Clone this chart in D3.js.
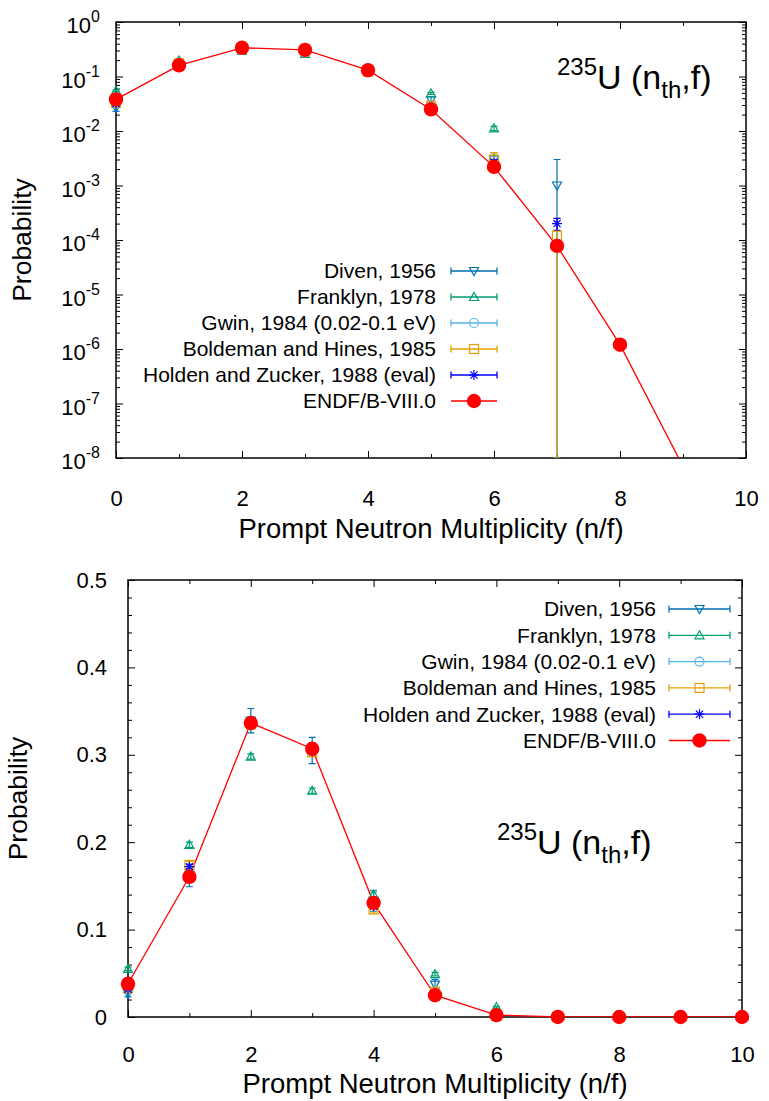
<!DOCTYPE html>
<html>
<head>
<meta charset="utf-8">
<script src="https://cdn.jsdelivr.net/npm/d3@7"></script>
<style>
  body { margin: 0; background: #fff; }
  svg { font-family: "Liberation Sans", Arial, Helvetica, sans-serif; }
</style>
</head>
<body>
<svg id="chart" width="769" height="1101"></svg>
<script>
// multiplicity values for the measured data
const nExp = [0, 1, 2, 3, 4, 5, 6, 7];
const nEndf = [0, 1, 2, 3, 4, 5, 6, 7, 8, 9, 10];

// probabilities and their errors
const divenP   = [0.027, 0.162, 0.339, 0.305, 0.133, 0.037, 0.0030, 0.0010];
const divenE   = [0.004, 0.013, 0.014, 0.015, 0.012, 0.006, 0.0010, 0.0020];
const franklynP = [0.055, 0.197, 0.298, 0.259, 0.140, 0.049, 0.0112];
const franklynE = [0.002, 0.003, 0.003, 0.003, 0.003, 0.002, 0.0010];
const gwinP    = [0.031, 0.165, 0.334, 0.305, 0.130, 0.030, 0.0030];
const gwinE    = [0.002, 0.004, 0.005, 0.005, 0.004, 0.002, 0.0005];
const boldemanP = [0.033, 0.174, 0.335, 0.303, 0.123, 0.029, 0.0030, 0.00012];
const boldemanE = [0.002, 0.004, 0.005, 0.005, 0.004, 0.002, 0.0010, 0.00013];
const holdenP  = [0.0317, 0.1720, 0.3363, 0.3038, 0.1268, 0.0266, 0.0026, 0.0002];
const holdenE  = [0.0013, 0.0023, 0.0016, 0.0015, 0.0020, 0.0015, 0.0004, 0.00005];
const endfP    = [0.038, 0.1604, 0.3364, 0.3069, 0.1306, 0.0249, 0.0022, 7.8e-5, 1.2e-6, 7e-9, 1e-11];

const xTickLabels = [0, 2, 4, 6, 8, 10];
const linTickLabels = [0, 0.1, 0.2, 0.3, 0.4, 0.5];
const logDecades = [-8, -7, -6, -5, -4, -3, -2, -1, 0];

const seriesNames = [
  'Diven, 1956',
  'Franklyn, 1978',
  'Gwin, 1984 (0.02-0.1 eV)',
  'Boldeman and Hines, 1985',
  'Holden and Zucker, 1988 (eval)',
  'ENDF/B-VIII.0'
];

const series = [
  { name: seriesNames[0], color: '#0072b2', sym: 'tridown', p: divenP, e: divenE },
  { name: seriesNames[1], color: '#009e73', sym: 'triup', p: franklynP, e: franklynE },
  { name: seriesNames[2], color: '#56b4e9', sym: 'circle', p: gwinP, e: gwinE },
  { name: seriesNames[3], color: '#e69f00', sym: 'square', p: boldemanP, e: boldemanE },
  { name: seriesNames[4], color: '#0000ff', sym: 'star', p: holdenP, e: holdenE }
];
const endfColor = '#ff0000';

const svg = d3.select('#chart');

// draw a gnuplot-like point symbol
function symbol(g, type, cx, cy, color) {
  if (type === 'tridown') {
    g.append('path').attr('d', `M${cx - 4.5},${cy - 3.5}L${cx + 4.5},${cy - 3.5}L${cx},${cy + 4.5}Z`)
      .attr('fill', 'none').attr('stroke', color).attr('stroke-width', 1.2);
  } else if (type === 'triup') {
    g.append('path').attr('d', `M${cx - 4.5},${cy + 3.5}L${cx + 4.5},${cy + 3.5}L${cx},${cy - 4.5}Z`)
      .attr('fill', 'none').attr('stroke', color).attr('stroke-width', 1.2);
  } else if (type === 'circle') {
    g.append('circle').attr('cx', cx).attr('cy', cy).attr('r', 4.5)
      .attr('fill', 'none').attr('stroke', color).attr('stroke-width', 1.2);
  } else if (type === 'square') {
    g.append('rect').attr('x', cx - 4.5).attr('y', cy - 4.5).attr('width', 9).attr('height', 9)
      .attr('fill', 'none').attr('stroke', color).attr('stroke-width', 1.2);
    g.append('circle').attr('cx', cx).attr('cy', cy).attr('r', 0.8).attr('fill', color);
  } else if (type === 'star') {
    g.append('path')
      .attr('d', `M${cx - 5},${cy}H${cx + 5}M${cx},${cy - 5}V${cy + 5}M${cx - 3.6},${cy - 3.6}L${cx + 3.6},${cy + 3.6}M${cx - 3.6},${cy + 3.6}L${cx + 3.6},${cy - 3.6}`)
      .attr('stroke', color).attr('stroke-width', 1.2);
  } else if (type === 'dot') {
    g.append('circle').attr('cx', cx).attr('cy', cy).attr('r', 7.2).attr('fill', color);
  }
}

function panel(cfg) {
  const { left, right, top, bottom, log, id } = cfg;
  const x = d3.scaleLinear().domain([0, 10]).range([left, right]);
  const y = log
    ? d3.scaleLog().domain([1e-8, 1]).range([bottom, top])
    : d3.scaleLinear().domain([0, 0.5]).range([bottom, top]);
  const yMin = y.domain()[0];

  const g = svg.append('g');

  // clip for lines and error bars
  g.append('clipPath').attr('id', 'clip' + id)
    .append('rect').attr('x', left - 12).attr('y', top).attr('width', right - left + 24).attr('height', bottom - top);

  // x axes (bottom with labels, top mirrored)
  const oddTicks = d3.range(1, 10, 2);
  g.append('g').attr('transform', `translate(0,${bottom})`)
    .call(d3.axisBottom(x).tickValues(xTickLabels).tickSize(-7).tickPadding(cfg.xPad).tickFormat(d3.format('d')))
    .call(a => a.select('.domain').remove());
  g.append('g').attr('transform', `translate(0,${bottom})`)
    .call(d3.axisBottom(x).tickValues(oddTicks).tickSize(-4).tickFormat(''))
    .call(a => a.select('.domain').remove());
  g.append('g').attr('transform', `translate(0,${top})`)
    .call(d3.axisTop(x).tickValues(xTickLabels).tickSize(-7).tickFormat(''))
    .call(a => a.select('.domain').remove());
  g.append('g').attr('transform', `translate(0,${top})`)
    .call(d3.axisTop(x).tickValues(oddTicks).tickSize(-4).tickFormat(''))
    .call(a => a.select('.domain').remove());

  // y axes
  let majors, minors;
  if (log) {
    majors = logDecades.map(k => Math.pow(10, k));
    minors = [];
    logDecades.slice(0, -1).forEach(k => {
      for (let m = 2; m <= 9; m++) minors.push(m * Math.pow(10, k));
    });
  } else {
    majors = linTickLabels;
    minors = d3.range(0.02, 0.5, 0.02).filter(v => Math.abs(v * 10 - Math.round(v * 10)) > 1e-6);
  }
  g.append('g').attr('transform', `translate(${left},0)`)
    .call(d3.axisLeft(y).tickValues(majors).tickSize(-7).tickPadding(cfg.yPad)
      .tickFormat(log ? '' : d => (d === 0 ? '0' : d3.format('.1f')(d))))
    .call(a => a.select('.domain').remove());
  g.append('g').attr('transform', `translate(${left},0)`)
    .call(d3.axisLeft(y).tickValues(minors).tickSize(-4).tickFormat(''))
    .call(a => a.select('.domain').remove());
  g.append('g').attr('transform', `translate(${right},0)`)
    .call(d3.axisRight(y).tickValues(majors).tickSize(-7).tickFormat(''))
    .call(a => a.select('.domain').remove());
  g.append('g').attr('transform', `translate(${right},0)`)
    .call(d3.axisRight(y).tickValues(minors).tickSize(-4).tickFormat(''))
    .call(a => a.select('.domain').remove());

  g.selectAll('.tick line').attr('stroke', '#000').attr('stroke-width', 1);
  g.selectAll('.tick text').attr('font-size', 22).attr('fill', '#000')
    .attr('font-family', '"Liberation Sans", Arial, sans-serif');

  // log labels 10^k
  if (log) {
    const lab = g.append('g');
    logDecades.forEach(k => {
      const t = lab.append('text')
        .attr('x', left - 16).attr('y', y(Math.pow(10, k)) + 11)
        .attr('text-anchor', 'end').attr('font-size', 22);
      t.append('tspan').text('10');
      t.append('tspan').attr('dy', -11).attr('font-size', 16).text(String(k));
    });
  }

  // border
  g.append('rect').attr('x', left).attr('y', top).attr('width', right - left).attr('height', bottom - top)
    .attr('fill', 'none').attr('stroke', '#000').attr('stroke-width', 1.5);

  // axis titles
  g.append('text').attr('x', (left + right) / 2).attr('y', cfg.xTitleY)
    .attr('text-anchor', 'middle').attr('font-size', 27.5).text('Prompt Neutron Multiplicity (n/f)');
  g.append('text').attr('transform', `translate(${cfg.yTitleX},${(top + bottom) / 2}) rotate(-90)`)
    .attr('text-anchor', 'middle').attr('font-size', 26.5).text('Probability');

  // experimental data
  const plot = g.append('g');
  const clipped = plot.append('g').attr('clip-path', `url(#clip${id})`);
  series.forEach(s => {
    s.p.forEach((v, i) => {
      const cx = x(nExp[i]);
      const lo = v - s.e[i] > yMin ? v - s.e[i] : yMin;
      const hi = v + s.e[i];
      const y1 = y(lo), y2 = y(hi);
      clipped.append('path')
        .attr('d', `M${cx},${y1}V${y2}M${cx - 3.5},${y1}H${cx + 3.5}M${cx - 3.5},${y2}H${cx + 3.5}`)
        .attr('stroke', s.color).attr('stroke-width', 1.2).attr('fill', 'none');
      symbol(plot, s.sym, cx, y(v), s.color);
    });
  });

  // ENDF curve
  clipped.append('path')
    .datum(nEndf.map((n, i) => [n, endfP[i]]))
    .attr('fill', 'none').attr('stroke', endfColor).attr('stroke-width', 1.3)
    .attr('d', d3.line().x(d => x(d[0])).y(d => y(d[1])));
  nEndf.forEach((n, i) => {
    if (endfP[i] >= yMin) symbol(plot, 'dot', x(n), y(endfP[i]), endfColor);
  });

  // legend
  const leg = g.append('g');
  const all = series.concat([{ name: seriesNames[5], color: endfColor, sym: 'dot' }]);
  all.forEach((s, i) => {
    const ly = cfg.legY + i * cfg.legStep;
    leg.append('text').attr('x', cfg.legX).attr('y', ly).attr('dy', '0.35em')
      .attr('text-anchor', 'end').attr('font-size', 21).text(s.name);
    const x1 = cfg.legL1, x2 = cfg.legL2, xm = (x1 + x2) / 2;
    if (s.sym === 'dot') {
      leg.append('line').attr('x1', x1).attr('x2', x2).attr('y1', ly).attr('y2', ly)
        .attr('stroke', s.color).attr('stroke-width', 1.3);
    } else {
      leg.append('path').attr('d', `M${x1},${ly}H${x2}M${x1},${ly - 3.5}V${ly + 3.5}M${x2},${ly - 3.5}V${ly + 3.5}`)
        .attr('stroke', s.color).attr('stroke-width', 1.3).attr('fill', 'none');
    }
    symbol(leg, s.sym, xm, ly, s.color);
  });

  // reaction label
  const ann = g.append('text').attr('x', cfg.annX).attr('y', cfg.annY).attr('font-size', 34);
  ann.append('tspan').attr('font-size', 24).attr('dy', -14).text('235');
  ann.append('tspan').attr('dy', 14).text('U (n');
  ann.append('tspan').attr('font-size', 24).attr('dy', 9).text('th');
  ann.append('tspan').attr('dy', -9).text(',f)');
}

panel({
  id: 'top', left: 116, right: 746, top: 22, bottom: 458, log: true,
  xPad: 32, yPad: 16, xTitleY: 538, yTitleX: 31,
  legX: 436, legY: 271, legStep: 26, legL1: 451, legL2: 497,
  annX: 557, annY: 89
});

panel({
  id: 'bot', left: 128, right: 742, top: 580, bottom: 1017, log: false,
  xPad: 29, yPad: 21, xTitleY: 1093, yTitleX: 27,
  legX: 656, legY: 609, legStep: 26.3, legL1: 669, legL2: 730,
  annX: 497, annY: 854
});
</script>
</body>
</html>
